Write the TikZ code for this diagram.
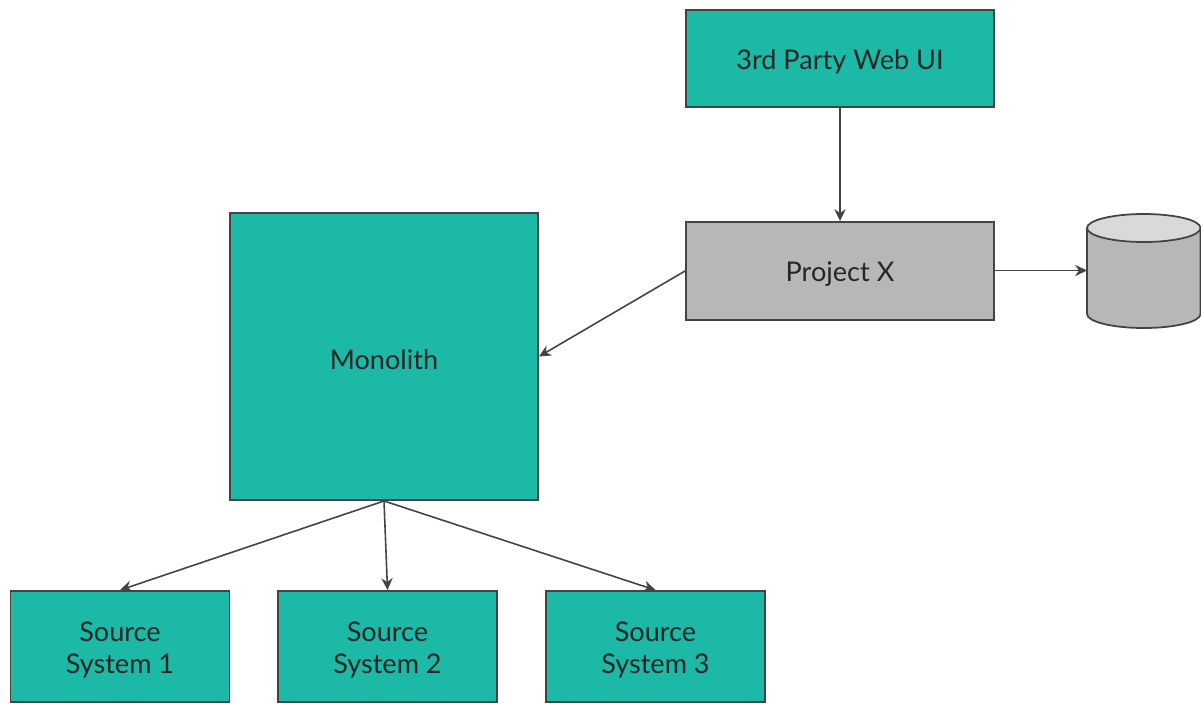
\documentclass[tikz,border=0pt]{standalone}
\usepackage{fontspec}
\setmainfont{Lato}
\usetikzlibrary{arrows.meta}
\definecolor{tealbox}{HTML}{1BB9A6}
\definecolor{graybox}{HTML}{B7B7B7}
\definecolor{graytop}{HTML}{D9D9D9}
\definecolor{edge}{HTML}{434343}
\tikzset{
  box/.style={draw=edge, line width=0.5pt, fill=tealbox, inner sep=0pt},
  lbl/.style={align=center, inner sep=0pt, yshift=-0.9pt,
    font=\fontsize{7.7}{9.1}\selectfont, text=black!85},
  link/.style={draw=edge, line width=0.45pt, -{Stealth[length=3.4pt,width=3.2pt]}}
}
\begin{document}
\begin{tikzpicture}[x=0.01cm, y=-0.01cm]
  \useasboundingbox (0,0) rectangle (1201,703);
  % boxes
  \node[box, minimum width=3.08cm, minimum height=0.97cm,
        label={[lbl]center:3rd Party Web UI}] (web) at (840,58.5) {};
  \node[box, fill=graybox, minimum width=3.08cm, minimum height=0.98cm,
        label={[lbl]center:Project X}] (px) at (840,271) {};
  \node[box, minimum width=3.08cm, minimum height=2.87cm,
        label={[lbl]center:Monolith}] (mono) at (384,356.5) {};
  \node[box, minimum width=2.19cm, minimum height=1.11cm,
        label={[lbl]center:Source\\System 1}] (s1) at (120,646.5) {};
  \node[box, minimum width=2.19cm, minimum height=1.11cm,
        label={[lbl]center:Source\\System 2}] (s2) at (387.5,646.5) {};
  \node[box, minimum width=2.19cm, minimum height=1.11cm,
        label={[lbl]center:Source\\System 3}] (s3) at (655.5,646.5) {};
  % database cylinder
  \fill[graybox] (1087,228) -- (1087,314) arc[start angle=180, end angle=0, x radius=56.75, y radius=14] -- (1200.5,228) -- cycle;
  \draw[edge, line width=0.5pt] (1087,228) -- (1087,314) arc[start angle=180, end angle=0, x radius=56.75, y radius=14] -- (1200.5,228);
  \draw[edge, line width=0.5pt, fill=graytop] (1143.75,228) ellipse[x radius=56.75, y radius=14];
  \coordinate (db) at (1087,270.5);
  % connectors
  \draw[link] (web.south) -- (px.north);
  \draw[link] (px.west) -- (mono.east);
  \draw[link] (px.east |- db) -- (db);
  \draw[link] (mono.south) -- (s1.north);
  \draw[link] (mono.south) -- (s2.north);
  \draw[link] (mono.south) -- (s3.north);
\end{tikzpicture}
\end{document}
